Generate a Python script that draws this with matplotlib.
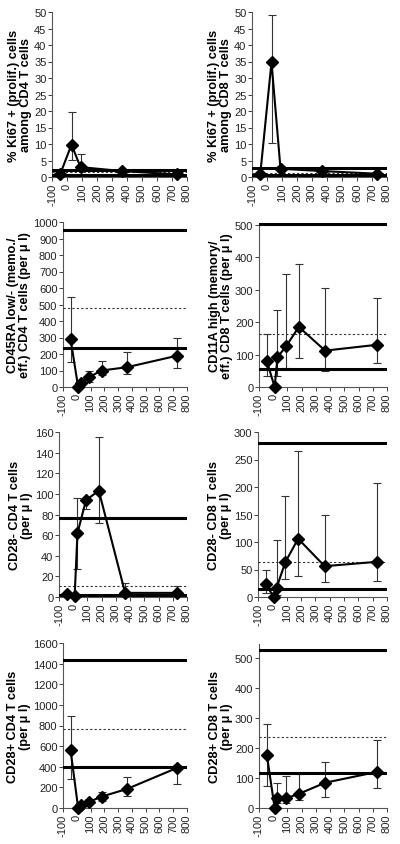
import matplotlib
matplotlib.use("Agg")
import matplotlib.pyplot as plt

plt.rcParams['font.family'] = ['Liberation Sans', 'DejaVu Sans']
plt.rcParams['axes.unicode_minus'] = False

# time points (days)
days = [-45, 10, 30, 90, 180, 365, 730]
days_ki67 = [-45, 30, 90, 365, 730]

# Ki67 CD4
ki67_cd4 = [0.9, 9.8, 3.0, 1.8, 0.8]
ki67_cd4_hi = [0.9, 19.8, 7.0, 1.8, 0.8]
ki67_cd4_lo = [0.9, 5.3, 2.0, 1.8, 0.8]
ki67_cd4_ref = [2.2, 0.6, 1.4]

# Ki67 CD8
ki67_cd8 = [0.8, 34.8, 2.5, 1.8, 1.0]
ki67_cd8_hi = [0.8, 49.2, 3.2, 1.8, 1.0]
ki67_cd8_lo = [0.8, 10.3, 2.0, 1.8, 1.0]
ki67_cd8_ref = [2.6, 0.6, 1.3]

# CD45RA low CD4
cd45_cd4 = [290, 0, 25, 60, 100, 120, 190]
cd45_cd4_hi = [545, 0, 35, 95, 155, 210, 295]
cd45_cd4_lo = [150, 0, 10, 30, 75, 80, 115]
cd45_cd4_ref = [950, 238, 478]

# CD11A high CD8
cd11_cd8 = [80, 0, 92, 125, 185, 112, 130]
cd11_cd8_hi = [163, 0, 238, 348, 380, 305, 275]
cd11_cd8_lo = [35, 0, 35, 58, 88, 50, 73]
cd11_cd8_ref = [502, 55, 163]

# CD28- CD4
cd28n_cd4 = [3, 1, 62, 94, 103, 4, 4]
cd28n_cd4_hi = [3, 1, 96, 96, 155, 14, 11]
cd28n_cd4_lo = [3, 1, 27, 85, 72, 2, 2]
cd28n_cd4_ref = [76.5, 1.5, 11]

# CD28- CD8
cd28n_cd8 = [23, 0, 17, 63, 106, 56, 64]
cd28n_cd8_hi = [50, 0, 103, 184, 266, 150, 208]
cd28n_cd8_lo = [8, 0, 3, 33, 38, 28, 30]
cd28n_cd8_ref = [280, 14, 63]

# CD28+ CD4
cd28p_cd4 = [560, 0, 30, 60, 110, 185, 390]
cd28p_cd4_hi = [890, 0, 45, 90, 160, 305, 420]
cd28p_cd4_lo = [280, 0, 15, 40, 70, 115, 235]
cd28p_cd4_ref = [1440, 400, 765]

# CD28+ CD8
cd28p_cd8 = [177, 0, 32, 32, 47, 84, 120]
cd28p_cd8_hi = [280, 0, 82, 108, 112, 154, 225]
cd28p_cd8_lo = [72, 0, 15, 18, 27, 38, 67]
cd28p_cd8_ref = [525, 116, 235]

panels = [
    (days_ki67, ki67_cd4, ki67_cd4_hi, ki67_cd4_lo, ki67_cd4_ref, 50, 5,
     '% Ki67 + (prolif.) cells\namong CD4 T cells', [52, 13, 187, 178]),
    (days_ki67, ki67_cd8, ki67_cd8_hi, ki67_cd8_lo, ki67_cd8_ref, 50, 5,
     '% Ki67 + (prolif.) cells\namong CD8 T cells', [252, 13, 387, 178]),
    (days, cd45_cd4, cd45_cd4_hi, cd45_cd4_lo, cd45_cd4_ref, 1000, 100,
     'CD45RA low/- (memo./\neff.) CD4 T cells (per μ l)', [63, 223, 187, 388]),
    (days, cd11_cd8, cd11_cd8_hi, cd11_cd8_lo, cd11_cd8_ref, 505, 100,
     'CD11A high (memory/\neff.) CD8 T cells (per μ l)', [259, 224, 387, 388]),
    (days, cd28n_cd4, cd28n_cd4_hi, cd28n_cd4_lo, cd28n_cd4_ref, 160, 20,
     'CD28- CD4 T cells\n(per μ l)', [59, 433, 187, 598]),
    (days, cd28n_cd8, cd28n_cd8_hi, cd28n_cd8_lo, cd28n_cd8_ref, 300, 50,
     'CD28- CD8 T cells\n(per μ l)', [258, 433, 387, 598]),
    (days, cd28p_cd4, cd28p_cd4_hi, cd28p_cd4_lo, cd28p_cd4_ref, 1600, 200,
     'CD28+ CD4 T cells\n(per μ l)', [63, 644, 187, 809]),
    (days, cd28p_cd8, cd28p_cd8_hi, cd28p_cd8_lo, cd28p_cd8_ref, 545, 100,
     'CD28+ CD8 T cells\n(per μ l)', [259, 645, 387, 809]),
]

W, H = 400, 845
fig = plt.figure(figsize=(4, 8.45), dpi=100)

for x, y, hi, lo, ref, ymax, step, label, box in panels:
    l, t, r, b = box
    ax = fig.add_axes([l / W, 1 - b / H, (r - l) / W, (b - t) / H])
    yerr = [[v - d for v, d in zip(y, lo)], [u - v for v, u in zip(y, hi)]]
    ax.errorbar(x, y, yerr=yerr, fmt='none', ecolor='#333333', elinewidth=0.8,
                capsize=3, capthick=0.8, zorder=2)
    ax.axhline(ref[0], color='black', lw=2.2, zorder=3)
    ax.axhline(ref[1], color='black', lw=2.2, zorder=3)
    ax.axhline(ref[2], color='#333333', lw=0.8, ls=(0, (2, 2)), zorder=3)
    ax.plot(x, y, color='black', lw=1.5, marker='D', markersize=6.5,
            markerfacecolor='black', zorder=4, clip_on=False)
    ax.set_xlim(-100, 800)
    ax.set_ylim(0, ymax)
    ax.set_xticks(range(-100, 801, 100))
    ax.set_yticks(range(0, int(ymax) + 1, step))
    ax.tick_params(axis='x', labelrotation=90)
    ax.tick_params(labelsize=8, length=3, width=0.6, pad=1, colors='#222222')
    ax.spines['top'].set_visible(False)
    ax.spines['right'].set_visible(False)
    ax.spines['left'].set_color('#555555')
    ax.spines['bottom'].set_color('#555555')
    ax.set_ylabel(label, fontsize=9.2, fontweight='bold', labelpad=1.5,
                  linespacing=1.0)

plt.savefig('out.png', dpi=100)
